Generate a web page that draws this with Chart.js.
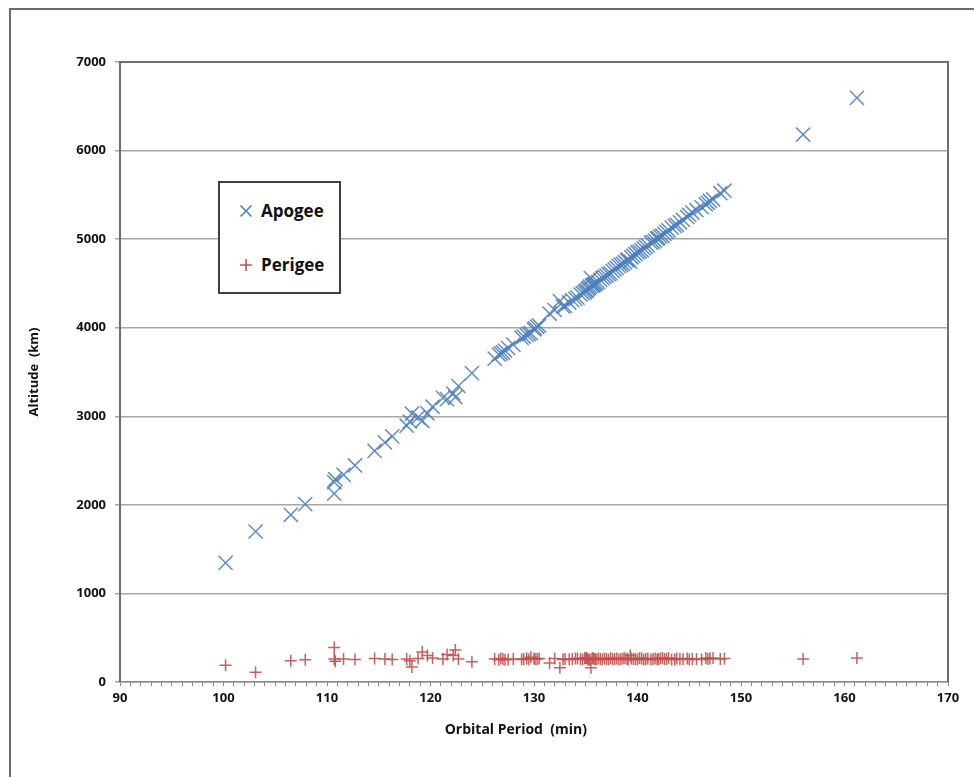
<!DOCTYPE html>
<html>
<head>
<meta charset="utf-8">
<script src="https://cdn.jsdelivr.net/npm/chart.js@4.4.1/dist/chart.umd.min.js"></script>
<style>
  html, body { margin:0; padding:0; background:#fff; }
  #wrap { position:relative; width:974px; height:777px; overflow:hidden; }
  #frame { position:absolute; left:9px; top:8px; width:1000px; height:800px; border:2px solid #6b6b6b; box-sizing:border-box; }
  canvas { position:absolute; left:0; top:0; }
  #legend { position:absolute; left:218px; top:181px; width:123px; height:113px; border:2px solid #404040; box-sizing:border-box; background:#fff;
            font-family:"Open Sans", Lato, sans-serif; font-weight:bold; font-size:17px; color:#111; }
  .item { position:absolute; left:19px; height:20px; line-height:20px; }
  .item svg { position:absolute; left:0; top:3px; }
  .item span { position:absolute; left:22px; white-space:nowrap; }
</style>
</head>
<body>
<div id="wrap">
  <div id="frame"></div>
  <canvas id="chart" width="974" height="777"></canvas>
  <div id="legend">
    <div class="item" style="top:18px;">
      <svg width="14" height="14"><path d="M1.5 1.5 L12.5 12.5 M12.5 1.5 L1.5 12.5" stroke="#4f81bd" stroke-width="1.6"/></svg>
      <span>Apogee</span>
    </div>
    <div class="item" style="top:72px;">
      <svg width="14" height="14"><path d="M7 1 L7 13 M1 7 L13 7" stroke="#c0504d" stroke-width="1.6"/></svg>
      <span>Perigee</span>
    </div>
  </div>
</div>
<script>
// =======================
// DATA
// =======================
const periods = [
  100.2, 103.1, 106.5, 107.9, 110.7, 110.7, 110.8, 111.6, 112.7, 114.6,
  115.6, 116.3, 117.7, 118.0, 118.2, 118.8, 119.2, 119.7, 120.2, 121.2,
  121.6, 122.2, 122.4, 122.7, 124.0, 126.2, 126.6, 126.8, 127.0, 127.2,
  127.5, 128.0, 128.8, 129.0, 129.3, 129.5, 129.7, 130.0, 130.1, 130.3,
  130.5, 131.5, 132.0, 132.5, 132.8, 133.0, 133.4, 133.7, 134.0, 134.2,
  134.5, 134.7, 134.9, 135.0, 135.1, 135.2, 135.3, 135.4, 135.5, 135.6,
  135.7, 135.8, 135.9, 136.0, 136.2, 136.4, 136.6, 136.8, 137.0, 137.2,
  137.4, 137.6, 137.8, 138.0, 138.2, 138.4, 138.6, 138.8, 139.0, 139.1,
  139.3, 139.4, 139.6, 139.8, 140.0, 140.2, 140.4, 140.6, 140.8, 141.0,
  141.3, 141.5, 141.7, 141.9, 142.0, 142.2, 142.4, 142.6, 142.8, 143.0,
  143.3, 143.6, 143.8, 144.1, 144.4, 144.8, 145.0, 145.3, 145.7, 146.2,
  146.6, 146.8, 147.0, 147.3, 148.0, 148.4, 156.0, 161.2
];

const apogee = [
  1345, 1699, 1888, 2008, 2127, 2257, 2290, 2339, 2445, 2609,
  2704, 2773, 2894, 2941, 3029, 2988, 2949, 3034, 3108, 3208,
  3194, 3257, 3215, 3342, 3487, 3651, 3697, 3710, 3722, 3740,
  3771, 3809, 3885, 3900, 3918, 3930, 3938, 3980, 3993, 4010,
  4023, 4160, 4200, 4301, 4240, 4245, 4284, 4310, 4326, 4340,
  4374, 4390, 4399, 4415, 4420, 4440, 4450, 4465, 4560, 4475,
  4480, 4486, 4495, 4505, 4515, 4540, 4560, 4575, 4589, 4605,
  4613, 4640, 4657, 4675, 4697, 4710, 4721, 4740, 4760, 4770,
  4746, 4795, 4811, 4830, 4850, 4860, 4874, 4895, 4913, 4930,
  4960, 4970, 4984, 5005, 5015, 5030, 5039, 5060, 5083, 5100,
  5130, 5150, 5162, 5190, 5217, 5250, 5273, 5300, 5327, 5360,
  5392, 5410, 5431, 5450, 5519, 5547, 6181, 6595
];

const perigee = [
  190, 110, 240, 250, 390, 260, 235, 260, 255, 265,
  260, 255, 260, 240, 170, 265, 340, 300, 270, 260,
  310, 300, 360, 260, 230, 260, 250, 265, 260, 250,
  255, 260, 255, 260, 265, 255, 280, 265, 260, 260,
  265, 215, 265, 160, 255, 260, 255, 260, 265, 265,
  260, 255, 270, 265, 270, 255, 255, 250, 160, 265,
  270, 260, 260, 255, 265, 260, 255, 265, 260, 255,
  270, 260, 260, 265, 255, 260, 265, 270, 260, 255,
  300, 265, 260, 260, 255, 270, 265, 255, 260, 265,
  255, 260, 265, 255, 260, 265, 270, 260, 260, 270,
  255, 255, 265, 260, 260, 265, 255, 260, 260, 255,
  270, 260, 265, 270, 260, 265, 260, 270
];

const xTicks = [90, 100, 110, 120, 130, 140, 150, 160, 170];
const yTicks = [0, 1000, 2000, 3000, 4000, 5000, 6000, 7000];

// =======================
// CHART
// =======================
const font = { family: "'Open Sans', Lato, sans-serif", weight: "bold", size: 13 };
const titleFont = { family: "'Open Sans', Lato, sans-serif", weight: "bold", size: 14 };

const plotBox = {
  id: "plotBox",
  afterDatasetsDraw(chart){
    const a = chart.chartArea, c = chart.ctx;
    c.save();
    c.strokeStyle = "#6e6e6e";
    c.lineWidth = 2;
    c.beginPath();
    c.moveTo(a.left, a.bottom);
    c.lineTo(a.left, a.top);
    c.lineTo(a.right, a.top);
    c.lineTo(a.right, a.bottom);
    c.stroke();
    c.restore();
  }
};

new Chart(document.getElementById("chart"), {
  type: "scatter",
  data: {
    datasets: [
      {
        label: "Apogee",
        data: periods.map((p,i)=>({x:p, y:apogee[i]})),
        pointStyle: "crossRot",
        pointRadius: 10,
        borderColor: "rgba(79,129,189,0.9)",
        backgroundColor: "rgba(79,129,189,0.9)",
        pointBorderWidth: 1.5
      },
      {
        label: "Perigee",
        data: periods.map((p,i)=>({x:p, y:perigee[i]})),
        pointStyle: "cross",
        pointRadius: 6,
        borderColor: "rgba(192,80,77,0.9)",
        backgroundColor: "rgba(192,80,77,0.9)",
        pointBorderWidth: 1.5
      }
    ]
  },
  options: {
    responsive: false,
    animation: false,
    layout: { padding: { left: 24, top: 62, right: 26, bottom: 35 } },
    plugins: { legend: { display: false }, tooltip: { enabled: false } },
    scales: {
      x: {
        type: "linear",
        min: xTicks[0],
        max: xTicks[xTicks.length-1],
        afterFit(s){ s.height = 60; },
        ticks: {
          stepSize: 1,
          autoSkip: false,
          maxRotation: 0,
          padding: 4,
          color: "#111",
          font: font,
          callback: v => xTicks.includes(v) ? String(v) : ""
        },
        grid: { drawOnChartArea: false, drawTicks: true, tickLength: 4, color: "#8a8a8a" },
        border: { color: "#8a8a8a", width: 1.5 },
        // trailing spaces move the centred title a little left, as in the original
        title: { display: true, text: "Orbital Period  (min)          ", color: "#111", font: titleFont, padding: { top: 4, bottom: 4 } }
      },
      y: {
        min: yTicks[0],
        max: yTicks[yTicks.length-1],
        afterFit(s){ s.width = 96; },
        afterBuildTicks(s){ s.ticks = yTicks.map(v=>({value:v})); },
        ticks: { color: "#111", font: font, padding: 9, callback: v => String(v) },
        grid: { color: "#a6a6a6", lineWidth: 1.5, tickLength: 5 },
        border: { color: "#8a8a8a", width: 1.5 },
        title: { display: true, text: "Altitude  (km)", color: "#111", font: font, padding: 2 }
      }
    }
  },
  plugins: [plotBox]
});
</script>
</body>
</html>
